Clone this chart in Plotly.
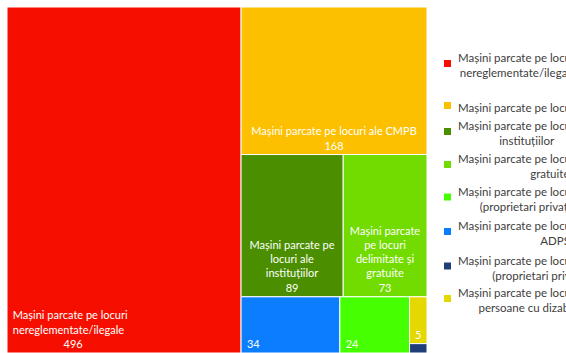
import plotly.graph_objects as go

# ---- data ----
categories = [
    "Mașini parcate pe locuri nereglementate/ilegale",
    "Mașini parcate pe locuri ale CMPB",
    "Mașini parcate pe locuri ale instituțiilor",
    "Mașini parcate pe locuri delimitate și gratuite",
    "Mașini parcate pe locuri ale (proprietari privați)",
    "Mașini parcate pe locuri administrate de ADPS1",
    "Mașini parcate pe locuri cu plată (proprietari privați)",
    "Mașini parcate pe locuri pentru persoane cu dizabilități",
]
values = [496, 168, 89, 73, 24, 34, 1, 5]
colors = ["#F60F00", "#FDC000", "#4B8F00", "#72DB00", "#46FF00", "#0B7DFF", "#203F78", "#E4D800"]

# tile labels (wrapped as in the chart), value appended below
tile_labels = [
    "Mașini parcate pe locuri<br>nereglementate/ilegale",
    "Mașini parcate pe locuri ale CMPB",
    "Mașini parcate pe<br>locuri ale<br>instituțiilor",
    "Mașini parcate<br>pe locuri<br>delimitate și<br>gratuite",
    "",
    "",
    None,
    "",
]
legend_labels = [
    "Mașini parcate pe locuri<br>nereglementate/ilegale",
    "Mașini parcate pe locuri ale CMPB",
    "Mașini parcate pe locuri ale<br>instituțiilor",
    "Mașini parcate pe locuri delimitate și<br>gratuite",
    "Mașini parcate pe locuri ale<br>(proprietari privați)",
    "Mașini parcate pe locuri administrate de<br>ADPS1",
    "Mașini parcate pe locuri cu plată<br>(proprietari privați)",
    "Mașini parcate pe locuri pentru<br>persoane cu dizabilități",
]

# ---- styling helpers ----
tile_align = ["left", "center", "center", "center", "left", "left", "left", "center"]
value_pad = [18, 0, 0, 0, 0, 0, 0, 0]   # non-breaking spaces to centre the value line under a left block

W, H = 566, 353
FONT = "Lato, 'Noto Sans', sans-serif"
NB = "\u00a0"


def tile_text(i):
    if tile_labels[i] is None:
        return ""
    lines = tile_labels[i].split("<br>") if tile_labels[i] else []
    lines.append(NB * value_pad[i] + str(values[i]))
    if tile_align[i] == "left":
        lines = [NB + ln for ln in lines]
    return "<br>".join(lines)


texts = [tile_text(i) for i in range(len(values))]
text_left = [t if a == "left" else "" for t, a in zip(texts, tile_align)]
text_center = [t if a == "center" else "" for t, a in zip(texts, tile_align)]

domain = dict(x=[7 / W, 427 / W], y=[0, 1 - 7 / H])
common = dict(
    labels=categories,
    parents=[""] * len(categories),
    values=values,
    sort=True,
    textinfo="text",
    domain=domain,
    pathbar=dict(visible=False),
    tiling=dict(packing="squarify", pad=0),
    textfont=dict(family=FONT, size=11, color="white"),
)

fig = go.Figure()
fig.add_trace(go.Treemap(
    **common,
    text=text_left,
    textposition="bottom left",
    marker=dict(colors=colors, line=dict(color="white", width=1), pad=dict(t=0, l=0, r=0, b=0)),
    hoverinfo="label+value",
))
fig.add_trace(go.Treemap(
    **common,
    text=text_center,
    textposition="bottom center",
    marker=dict(colors=["rgba(0,0,0,0)"] * len(values), line=dict(width=0), pad=dict(t=0, l=0, r=0, b=0)),
    hoverinfo="skip",
))

# ---- legend (drawn manually) ----
legend_y = [65, 107, 133, 166, 198.5, 233, 267.5, 300]
shapes = []
annotations = []
for lab, col, y in zip(legend_labels, colors, legend_y):
    ys = y - 1.5
    shapes.append(dict(type="rect", xref="paper", yref="paper",
                       x0=444 / W, x1=451 / W, y0=1 - (ys + 3.5) / H, y1=1 - (ys - 3.5) / H,
                       fillcolor=col, line=dict(width=0)))
    annotations.append(dict(text=lab, xref="paper", yref="paper", x=456 / W, y=1 - y / H,
                            xanchor="left", yanchor="middle", align="center", showarrow=False,
                            font=dict(family=FONT, size=11.5, color="#404040")))

fig.update_layout(
    width=W, height=H,
    margin=dict(l=0, r=0, t=0, b=0),
    paper_bgcolor="white",
    plot_bgcolor="white",
    shapes=shapes,
    annotations=annotations,
    showlegend=False,
)

fig.write_html("out.html")
